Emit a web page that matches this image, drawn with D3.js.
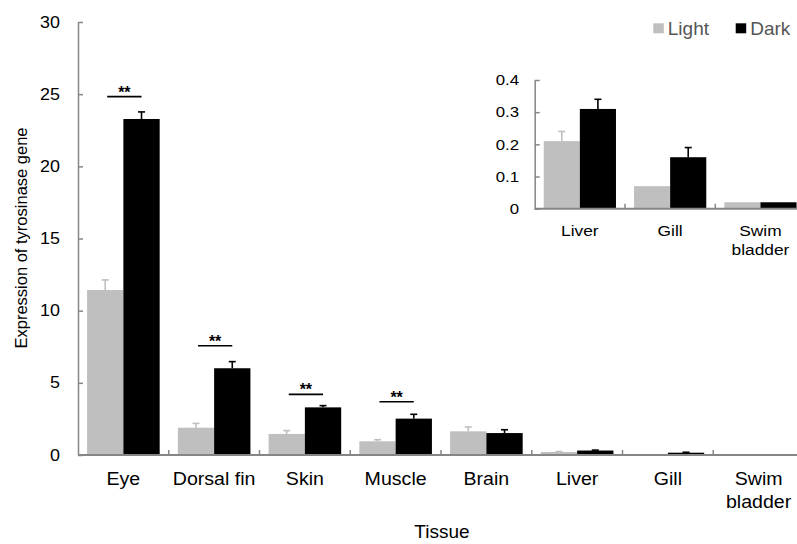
<!DOCTYPE html>
<html>
<head>
<meta charset="utf-8">
<script src="https://cdn.jsdelivr.net/npm/d3@7"></script>
<style>
  body { margin: 0; background: #fff; }
  text { font-family: "Liberation Sans", Arial, sans-serif; }
</style>
</head>
<body>
<script>
// data
const tissues = ['Eye', 'Dorsal fin', 'Skin', 'Muscle', 'Brain', 'Liver', 'Gill', 'Swim bladder'];
const lightVals = [11.43, 1.89, 1.46, 0.95, 1.64, 0.21, 0.07, 0.02];
const lightErr  = [0.70, 0.30, 0.23, 0.11, 0.30, 0.03, 0.00, 0.00];
const darkVals  = [23.28, 6.01, 3.30, 2.52, 1.52, 0.31, 0.16, 0.02];
const darkErr   = [0.49, 0.46, 0.12, 0.30, 0.23, 0.03, 0.03, 0.00];
const yTicks = [0, 5, 10, 15, 20, 25, 30];

// significance bars (tissue, height)
const sigTissues = ['Eye', 'Dorsal fin', 'Skin', 'Muscle'];
const sigLevels  = [24.83, 7.57, 4.2, 3.69];

// inset
const insetTissues = ['Liver', 'Gill', 'Swim bladder'];
const insetTicks = [0, 0.1, 0.2, 0.3, 0.4];

const series = ['Light', 'Dark'];
const colors = { Light: '#bfbfbf', Dark: '#000000' };
const axisColor = '#868686';

const W = 797, H = 544;
const svg = d3.select('body').append('svg')
    .attr('width', W)
    .attr('height', H);

const rows = tissues.map((t, i) => ({
    tissue: t,
    Light: { v: lightVals[i], e: lightErr[i] },
    Dark: { v: darkVals[i], e: darkErr[i] }
}));

function drawPanel(g, cats, x0, x1, y, opts) {
    const x = d3.scaleBand().domain(cats).range([x0, x1]).paddingInner(0.2).paddingOuter(0.1);
    const xs = d3.scaleBand().domain(series).range([0, x.bandwidth()]);
    const data = rows.filter(r => cats.includes(r.tissue));

    const grp = g.selectAll('g.grp').data(data).enter()
        .append('g')
        .attr('transform', d => `translate(${x(d.tissue)},0)`);

    series.forEach(s => {
        grp.append('rect')
            .attr('x', xs(s))
            .attr('width', xs.bandwidth())
            .attr('y', d => y(d[s].v))
            .attr('height', d => y(0) - y(d[s].v))
            .attr('fill', colors[s]);

        const eb = grp.filter(d => d[s].e > 0);
        const cx = xs(s) + xs.bandwidth() / 2;
        const c = s === 'Light' ? colors.Light : '#000';
        eb.append('line')
            .attr('x1', cx).attr('x2', cx)
            .attr('y1', d => y(d[s].v))
            .attr('y2', d => y(d[s].v + d[s].e))
            .attr('stroke', c)
            .attr('stroke-width', 1.6);
        eb.append('line')
            .attr('x1', cx - 3.5).attr('x2', cx + 3.5)
            .attr('y1', d => y(d[s].v + d[s].e))
            .attr('y2', d => y(d[s].v + d[s].e))
            .attr('stroke', c)
            .attr('stroke-width', 1.6);
    });

    // y axis
    const ya = g.append('g')
        .attr('transform', `translate(${x0},0)`)
        .call(d3.axisRight(y).tickValues(opts.ticks).tickSize(5).tickSizeOuter(0).tickFormat(opts.fmt));
    ya.select('.domain').attr('stroke', axisColor).attr('stroke-width', 1.5);
    ya.selectAll('.tick line').attr('stroke', axisColor).attr('stroke-width', 1.5);
    ya.selectAll('.tick text')
        .attr('x', 0)
        .attr('transform', `translate(${opts.labelX - x0},0) scale(${opts.sx},1)`)
        .attr('text-anchor', 'end')
        .attr('fill', '#000')
        .style('font-size', opts.tickFont + 'px')
        .style('font-family', '"Liberation Sans", Arial, sans-serif');

    // x axis line and category separators
    g.append('line')
        .attr('x1', x0).attr('x2', W)
        .attr('y1', y(0)).attr('y2', y(0))
        .attr('stroke', axisColor).attr('stroke-width', 2);
    g.selectAll('line.sep').data(cats.slice(1)).enter()
        .append('line')
        .attr('x1', d => x(d) - x.step() * x.paddingInner() / 2)
        .attr('x2', d => x(d) - x.step() * x.paddingInner() / 2)
        .attr('y1', y(0)).attr('y2', y(0) - 5)
        .attr('stroke', axisColor).attr('stroke-width', 1.5);

    // category labels
    g.selectAll('text.cat').data(cats).enter()
        .append('text')
        .attr('text-anchor', 'middle')
        .attr('fill', '#000')
        .attr('transform', d => `translate(${x(d) + x.bandwidth() / 2},${opts.catY}) scale(${opts.sx},1)`)
        .style('font-size', opts.catFont + 'px')
        .each(function (d) {
            const parts = d === 'Swim bladder' ? ['Swim', 'bladder'] : [d];
            parts.forEach((p, i) => {
                d3.select(this).append('tspan')
                    .attr('x', 0)
                    .attr('y', i * opts.catLine)
                    .text(p);
            });
        });

    return { x, xs };
}

// main chart
const yMain = d3.scaleLinear().domain([0, 30]).range([455, 22]);
const main = svg.append('g');
const mainX = drawPanel(main, tissues, 78, 804, yMain, {
    ticks: yTicks, fmt: d3.format('d'), labelX: 60, tickFont: 16, sx: 1.12,
    catFont: 17.5, catY: 485, catLine: 23
});

// significance markers
sigTissues.forEach((t, i) => {
    const xl = mainX.x(t) + mainX.xs('Light') + mainX.xs.bandwidth() / 2 + 2;
    const xr = mainX.x(t) + mainX.xs('Dark') + mainX.xs.bandwidth() / 2;
    const yy = yMain(sigLevels[i]);
    main.append('line')
        .attr('x1', xl).attr('x2', xr)
        .attr('y1', yy).attr('y2', yy)
        .attr('stroke', '#000').attr('stroke-width', 1.6);
    main.append('text')
        .attr('x', (xl + xr) / 2)
        .attr('y', yy + 1)
        .attr('text-anchor', 'middle')
        .style('font-size', '16px')
        .style('font-weight', 'bold')
        .text('**');
});

// axis titles
svg.append('text')
    .attr('transform', 'translate(27,238) rotate(-90)')
    .attr('text-anchor', 'middle')
    .style('font-size', '16.5px')
    .text('Expression of tyrosinase gene');
svg.append('text')
    .attr('x', 442)
    .attr('y', 538)
    .attr('text-anchor', 'middle')
    .style('font-size', '19px')
    .text('Tissue');

// inset chart
const yInset = d3.scaleLinear().domain([0, 0.4]).range([208.7, 80]);
const inset = svg.append('g');
drawPanel(inset, insetTissues, 534.7, 805.6, yInset, {
    ticks: insetTicks, fmt: d => d === 0 ? '0' : d3.format('.1f')(d), labelX: 519, tickFont: 15, sx: 1.12,
    catFont: 15.5, catY: 236, catLine: 19.5
});

// legend
const legend = svg.append('g');
const legX = [653.3, 735.7];
series.forEach((s, i) => {
    legend.append('rect')
        .attr('x', legX[i]).attr('y', 23.3)
        .attr('width', 10.5).attr('height', 10)
        .attr('fill', colors[s]);
    legend.append('text')
        .attr('x', legX[i] + 14.5).attr('y', 35)
        .attr('fill', '#555')
        .style('font-size', '19px')
        .text(s);
});
</script>
</body>
</html>
